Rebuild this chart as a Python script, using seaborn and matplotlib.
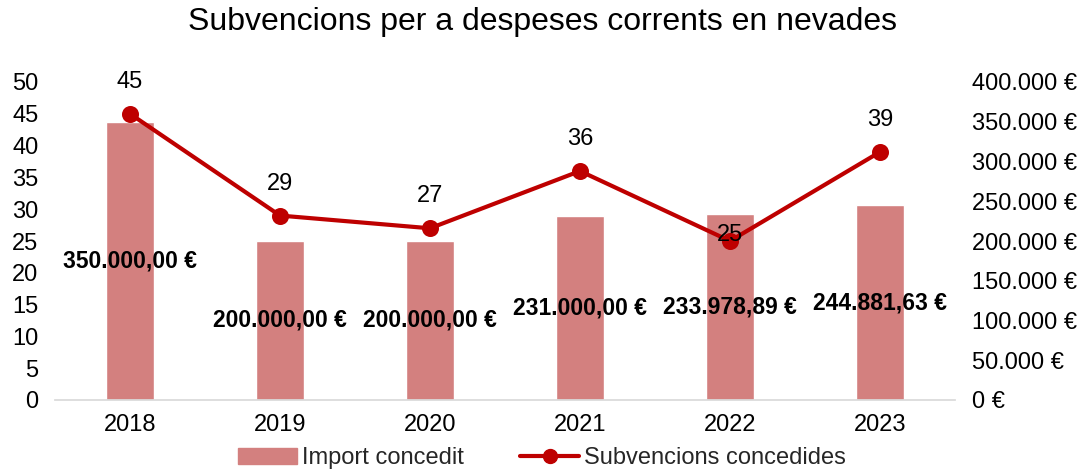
import matplotlib
matplotlib.use("Agg")
import matplotlib.pyplot as plt
import seaborn as sns
import pandas as pd
from matplotlib.ticker import FuncFormatter, MultipleLocator
from matplotlib.patches import Patch
from matplotlib.lines import Line2D

years = ["2018", "2019", "2020", "2021", "2022", "2023"]
imports = [350000.00, 200000.00, 200000.00, 231000.00, 233978.89, 244881.63]
counts = [45, 29, 27, 36, 25, 39]

bar_color = "#D3807F"
line_color = "#BE0000"

sns.set_theme(style="white")
plt.rcParams["font.family"] = ["Liberation Sans", "DejaVu Sans"]


def euro(v, decimals=0):
    s = f"{v:,.{decimals}f}"
    s = s.replace(",", "X").replace(".", ",").replace("X", ".")
    return s + " €"


df = pd.DataFrame({"year": years, "import": imports, "count": counts})

fig = plt.figure(figsize=(10.84, 4.75), dpi=100)
ax = fig.add_axes([55 / 1084, 75 / 475, 900 / 1084, 318 / 475])

# bars on the euro scale (shown on the right)
sns.barplot(data=df, x="year", y="import", color=bar_color, width=0.32,
            saturation=1, ax=ax)
ax.set_ylim(0, 400000)
ax.yaxis.set_major_locator(MultipleLocator(50000))
ax.yaxis.set_major_formatter(FuncFormatter(lambda v, p: euro(v)))
ax.set_xlim(-0.5, 5.5)

for i, v in enumerate(imports):
    ax.text(i, v / 2, euro(v, 2), ha="center", va="center",
            fontsize=16.5, fontweight="bold", color="black")

# line on the count scale (shown on the left)
ax2 = ax.twinx()
sns.pointplot(data=df, x="year", y="count", color=line_color, ax=ax2,
              markersize=10, linewidth=3)
ax2.set_ylim(0, 50)
ax2.yaxis.set_major_locator(MultipleLocator(5))
ax2.set_xlim(-0.5, 5.5)

# swap sides after twinx
ax.yaxis.tick_right()
ax2.yaxis.tick_left()

offsets = [23, 23, 23, 23, 4, 23]
for i, v in enumerate(counts):
    ax2.annotate(str(v), (i, v), xytext=(0, offsets[i]), textcoords="offset points",
                 ha="center", va="center", fontsize=17, color="black")

for a in (ax, ax2):
    a.set_xlabel("")
    a.set_ylabel("")
    for s in a.spines.values():
        s.set_visible(False)
    a.tick_params(axis="both", length=0, labelsize=17, colors="black")
ax.spines["bottom"].set_visible(True)
ax.spines["bottom"].set_color("#D9D9D9")
ax.tick_params(axis="x", pad=10)
ax.tick_params(axis="y", pad=12)
ax2.tick_params(axis="y", pad=12)

fig.text(0.5, 0.954, "Subvencions per a despeses corrents en nevades",
         ha="center", va="center", fontsize=23, color="black")

handles = [Patch(color=bar_color, label="Import concedit"),
           Line2D([0], [0], color=line_color, lw=3, marker="o", markersize=10,
                  label="Subvencions concedides")]
fig.legend(handles=handles, loc="center", bbox_to_anchor=(0.5, 0.035), ncol=2,
           frameon=False, fontsize=17, handlelength=2.5, columnspacing=2.4,
           handletextpad=0.2)

fig.savefig("out.png", dpi=100)
